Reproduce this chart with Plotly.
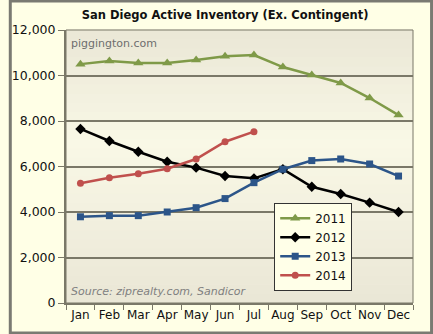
import plotly.graph_objects as go

months = ["Jan", "Feb", "Mar", "Apr", "May", "Jun", "Jul", "Aug", "Sep", "Oct", "Nov", "Dec"]
y2011 = [10500, 10640, 10550, 10550, 10680, 10850, 10900, 10370, 10020, 9670, 9010, 8260]
y2012 = [7650, 7120, 6650, 6210, 5950, 5580, 5480, 5880, 5110, 4790, 4410, 4000]
y2013 = [3790, 3840, 3840, 4000, 4190, 4590, 5290, 5880, 6260, 6330, 6110, 5580]
y2014 = [5260, 5510, 5680, 5900, 6330, 7090, 7530]
ytick_vals = [0, 2000, 4000, 6000, 8000, 10000, 12000]
ytick_text = ["0", "2,000", "4,000", "6,000", "8,000", "10,000", "12,000"]

series = [
    ("2011", y2011, "#7F9A48", "triangle-up", 9),
    ("2012", y2012, "#000000", "diamond", 8),
    ("2013", y2013, "#2C5589", "square", 7),
    ("2014", y2014, "#C0504D", "circle", 7),
]

fig = go.Figure()
for name, vals, color, sym, ms in series:
    fig.add_trace(go.Scatter(
        x=months[:len(vals)], y=vals, name=name, mode="lines+markers",
        line=dict(color=color, width=2.5),
        marker=dict(symbol=sym, size=ms, color=color),
    ))

grid = "#7A7868"

# vertical background gradient for the plot area (styling only)
edge = (0xEA, 0xE7, 0xD6)
mid = (0xF9, 0xF8, 0xE6)
mid_pos = 0.58
nb = 30
shapes = []
for i in range(nb):
    c = (i + 0.5) / nb
    if c < mid_pos:
        t = c / mid_pos
    else:
        t = (1 - c) / (1 - mid_pos)
    col = tuple(round(e + (m - e) * t) for e, m in zip(edge, mid))
    shapes.append(dict(type="rect", xref="paper", yref="paper", x0=0, x1=1,
                       y0=i / nb, y1=(i + 1) / nb + 0.002,
                       fillcolor="rgb(%d,%d,%d)" % col, line=dict(width=0),
                       layer="below"))
shapes.append(dict(type="rect", xref="paper", yref="paper", x0=0, x1=1, y0=0, y1=1,
                   line=dict(color=grid, width=1), layer="above"))
# outer image border
shapes.append(dict(type="rect", xref="paper", yref="paper",
                   x0=-57 / 355, x1=1 + 19 / 355, y0=-30 / 273, y1=1 + 29 / 273,
                   line=dict(color="#7A7A72", width=3), layer="above"))

fig.update_layout(
    width=433, height=334,
    margin=dict(l=58, r=20, t=30, b=31),
    paper_bgcolor="#FFFFE6",
    plot_bgcolor="#F2F0DD",
    font=dict(family="DejaVu Sans", size=12, color="#111111"),
    title=dict(text="<b>San Diego Active Inventory (Ex. Contingent)</b>",
               x=0.52, xanchor="center", y=0.955, yanchor="middle",
               font=dict(size=11.5, color="#111111")),
    showlegend=True,
    legend=dict(x=0.6, y=0.045, xanchor="left", yanchor="bottom",
                bgcolor="#FFFFE8", bordercolor="#333333", borderwidth=1,
                font=dict(size=12, color="#111111"),
                itemwidth=30, tracegroupgap=0),
    xaxis=dict(
        type="category", range=[-0.5, 11.5], showgrid=False,
        showline=True, linecolor=grid, linewidth=2,
        ticks="outside", ticklen=5, tickcolor=grid, tickson="boundaries",
        tickangle=0, tickfont=dict(size=12), zeroline=False,
    ),
    yaxis=dict(
        range=[0, 12000], tickvals=ytick_vals, ticktext=ytick_text,
        showgrid=True, gridcolor=grid, gridwidth=2,
        showline=True, linecolor=grid, linewidth=2,
        ticks="outside", ticklen=6, tickcolor=grid,
        tickfont=dict(size=12.5), zeroline=False,
    ),
    annotations=[
        dict(text="piggington.com", xref="paper", yref="paper", x=0.01, y=0.98,
             xanchor="left", yanchor="top", showarrow=False,
             font=dict(size=11, color="#6E6E6E")),
        dict(text="<i>Source: ziprealty.com, Sandicor</i>", xref="paper", yref="paper",
             x=0.01, y=0.01, xanchor="left", yanchor="bottom", showarrow=False,
             font=dict(size=11, color="#808080")),
    ],
    shapes=shapes,
)

fig.write_html("out.html")
